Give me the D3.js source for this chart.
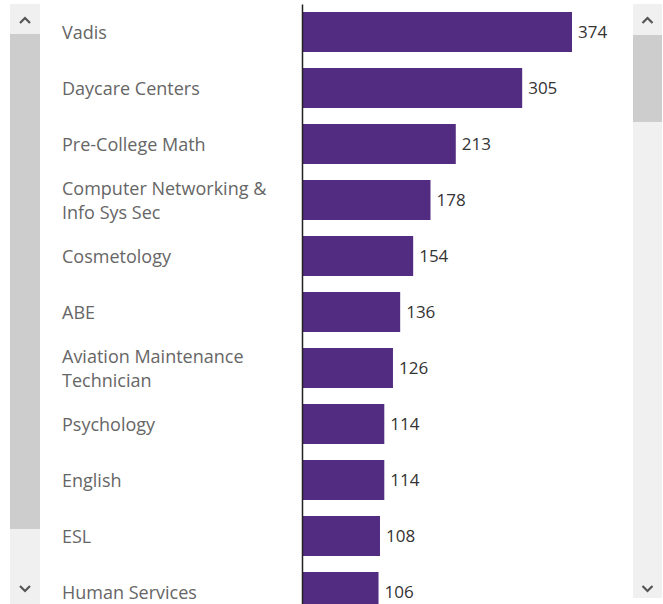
<!DOCTYPE html>
<html>
<head>
<meta charset="utf-8">
<script src="https://cdn.jsdelivr.net/npm/d3@7/dist/d3.min.js"></script>
<style>
  html, body { margin: 0; padding: 0; background: #ffffff; }
  svg { display: block; }
</style>
</head>
<body>
<svg id="chart" width="663" height="604"></svg>
<script>
const categories = [
  "Vadis", "Daycare Centers", "Pre-College Math", "Computer Networking & Info Sys Sec",
  "Cosmetology", "ABE", "Aviation Maintenance Technician", "Psychology",
  "English", "ESL", "Human Services"
];
const values = [374, 305, 213, 178, 154, 136, 126, 114, 114, 108, 106];

const W = 663, H = 604;
const svg = d3.select("#chart");
const FONT = "'Open Sans', 'Noto Sans', sans-serif";

// scrollbars
function scrollbar(x0, x1, yTop, yBot, thumbTop, thumbBot) {
  const g = svg.append("g");
  g.append("rect").attr("x", x0).attr("y", yTop).attr("width", x1 - x0).attr("height", yBot - yTop).attr("fill", "#f0f0f0");
  g.append("rect").attr("x", x0).attr("y", thumbTop).attr("width", x1 - x0).attr("height", thumbBot - thumbTop).attr("fill", "#cdcdcd");
  const cx = (x0 + x1) / 2;
  g.append("path").attr("d", `M${cx-5},${23} L${cx},${18} L${cx+5},${23}`)
    .attr("fill", "none").attr("stroke", "#555").attr("stroke-width", 2.2);
  g.append("path").attr("d", `M${cx-5},${586} L${cx},${591} L${cx+5},${586}`)
    .attr("fill", "none").attr("stroke", "#555").attr("stroke-width", 2.2);
}
scrollbar(10, 40, 4, 604, 34, 529);
scrollbar(633, 662, 4, 598, 35, 122);

const y = d3.scaleBand().domain(categories).range([4, 620])
  .paddingInner(16 / 56).paddingOuter(8 / 56);
const x = d3.scaleLinear().domain([0, 374]).range([302, 572]);

const plot = svg.append("g");
plot.selectAll("rect.bar").data(values).join("rect")
  .attr("class", "bar")
  .attr("x", x(0))
  .attr("y", (d, i) => y(categories[i]))
  .attr("width", d => x(d) - x(0))
  .attr("height", y.bandwidth())
  .attr("fill", "#512c81");

// axis line
const axis = d3.axisLeft(y).tickSize(0).tickSizeOuter(0).tickFormat("");
const ag = plot.append("g").attr("transform", `translate(${x(0)},0)`).call(axis);
ag.select(".domain").attr("stroke", "#222").attr("stroke-width", 1.5);

// value labels
plot.selectAll("text.val").data(values).join("text")
  .attr("class", "val")
  .attr("x", d => x(d) + 6)
  .attr("y", (d, i) => y(categories[i]) + y.bandwidth() / 2 + 6)
  .attr("font-family", FONT).attr("font-size", 17).attr("fill", "#333")
  .text(d => d);

// category labels with wrapping
const wrapWidth = 222;
categories.forEach((c, i) => {
  const t = plot.append("text").attr("font-family", FONT).attr("font-size", 18).attr("fill", "#666").attr("x", 62);
  const words = c.split(" ");
  let lines = [], cur = [];
  const probe = t.append("tspan");
  words.forEach(w => {
    const test = cur.concat([w]).join(" ");
    probe.text(test);
    if (probe.node().getComputedTextLength() > wrapWidth && cur.length) {
      lines.push(cur.join(" "));
      cur = [w];
    } else cur.push(w);
  });
  lines.push(cur.join(" "));
  probe.remove();
  const cy = y(c) + y.bandwidth() / 2;
  const lh = 24;
  lines.forEach((ln, j) => {
    t.append("tspan").attr("x", 62)
      .attr("y", cy + 7 + (j - (lines.length - 1) / 2) * lh)
      .text(ln);
  });
});
</script>
</body>
</html>
